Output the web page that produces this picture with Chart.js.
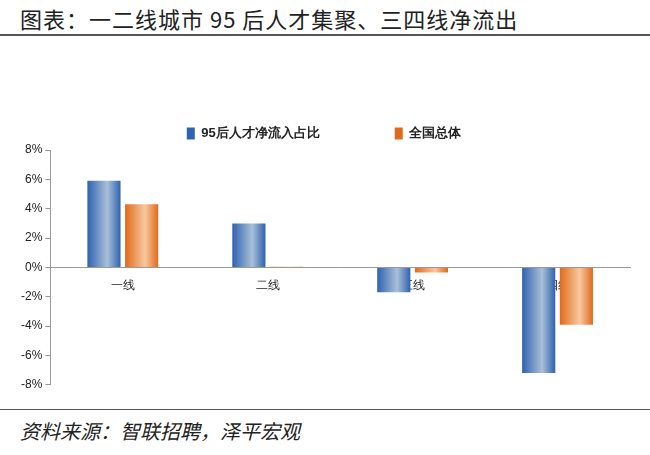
<!DOCTYPE html>
<html><head><meta charset="utf-8">
<script src="https://cdn.jsdelivr.net/npm/chart.js@4"></script>
<style>
body{margin:0;background:#fff;font-family:"Noto Sans CJK SC",sans-serif}
#title{position:absolute;left:20px;top:2px;font-size:22px;color:#222;letter-spacing:1px}
#l1{position:absolute;left:0;top:34px;width:650px;border-top:2px solid #555}
#l2{position:absolute;left:0;top:409px;width:650px;border-top:1.5px solid #555}
#src{position:absolute;left:20px;top:416px;font-size:20px;font-style:italic;color:#222}
#box{position:absolute;left:0;top:52px;width:640px;height:343px}
</style></head><body>
<div id="title">图表：一二线城市 95 后人才集聚、三四线净流出</div>
<div id="l1"></div>
<div id="box"><canvas id="c"></canvas></div>
<div id="l2"></div>
<div id="src">资料来源：智联招聘，泽平宏观</div>
<script>
const categories = ['一线', '二线', '三线', '四线']
const talent95 = [5.9, 3.0, -1.7, -7.2]
const national = [4.3, 0.05, -0.35, -3.9]

function grad(c1, c2, solid) {
    return function (ctx) {
        const el = ctx.element
        if (!el || el.x == null || !isFinite(el.width)) return solid
        const g = ctx.chart.ctx.createLinearGradient(el.x - el.width / 2, 0, el.x + el.width / 2, 0)
        g.addColorStop(0, c1); g.addColorStop(0.6, c2); g.addColorStop(1, c1)
        return g
    }
}

const chart = new Chart(document.getElementById('c'), {
    type: 'bar',
    data: {
        labels: categories,
        datasets: [{
            label: '95后人才净流入占比',
            data: talent95,
            backgroundColor: grad('#2f62b0', '#a9c0d8', '#4a78b8')
        }, {
            label: '全国总体',
            data: national,
            backgroundColor: grad('#e06a1a', '#f8c8a0', '#ef8a44')
        }]
    },
    options: {
        animation: false,
        maintainAspectRatio: false,
        categoryPercentage: 0.52,
        barPercentage: 0.88,
        layout: {padding: {left: 18, right: 10}},
        plugins: {
            legend: {
                labels: {boxWidth: 8, boxHeight: 12, padding: 75, color: '#222', font: {size: 13, weight: 'bold'}}
            },
            tooltip: {enabled: false}
        },
        scales: {
            x: {
                position: {y: 0},
                grid: {display: false},
                border: {color: '#999'},
                ticks: {color: '#222', font: {size: 12}}
            },
            y: {
                min: -8, max: 8,
                ticks: {stepSize: 2, color: '#222', font: {size: 12}, callback: v => v + '%'},
                grid: {drawOnChartArea: false, tickLength: 5, color: '#999'},
                border: {color: '#999'}
            }
        }
    }
})
chart.update()
</script>
</body></html>
